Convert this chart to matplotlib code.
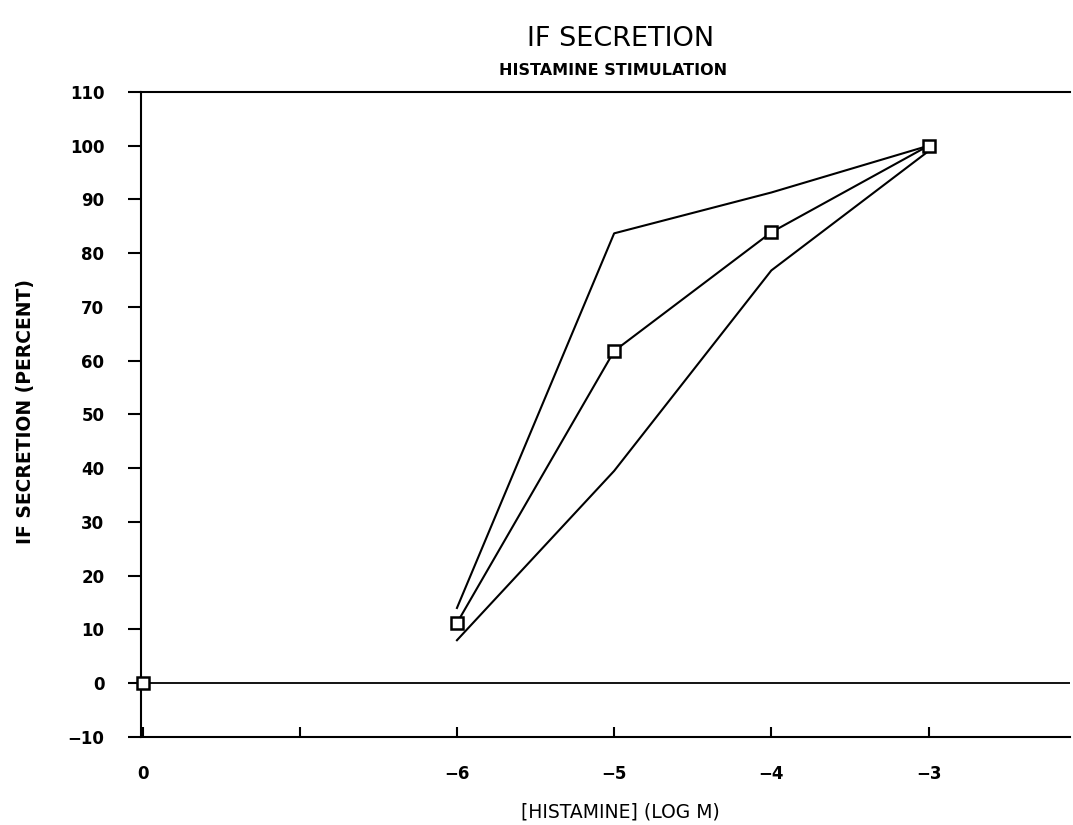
import matplotlib
matplotlib.use("Agg")
import matplotlib.pyplot as plt

# Log concentration positions (0 = no histamine, drawn at -8)
x_base = [-8]
base_vals = [0]
x_curve = [-6, -5, -4, -3]
mean_vals = [11.2, 61.8, 83.9, 100]
upper_vals = [14, 83.7, 91.3, 100]
lower_vals = [8, 39.5, 76.8, 99]

xtick_pos = [-8, -7, -6, -5, -4, -3]
xtick_labels = ["0", "", "\u22126", "\u22125", "\u22124", "\u22123"]
ytick_vals = list(range(-10, 111, 10))

fig = plt.figure(figsize=(10.73, 8.25), dpi=100)
ax = fig.add_axes([0.1314, 0.1067, 0.8658, 0.7818])

# Mean curve with square markers, envelope lines without
ax.plot(x_curve, mean_vals, color="black", lw=1.5, marker="s", ms=8,
        mfc="white", mec="black", mew=1.8, zorder=3)
ax.plot(x_base, base_vals, ls="none", marker="s", ms=8,
        mfc="white", mec="black", mew=1.8, zorder=3, clip_on=False)
ax.plot(x_curve, upper_vals, color="black", lw=1.5)
ax.plot(x_curve, lower_vals, color="black", lw=1.5)
ax.axhline(0, color="black", lw=1.3)

ax.set_xlim(-8.01, -2.1)
ax.set_ylim(-10, 110)
ax.set_xticks(xtick_pos)
ax.set_xticklabels(xtick_labels, fontsize=12, fontweight="bold")
ax.set_yticks(ytick_vals)
ax.set_yticklabels([f"{v:d}".replace("-", "\u2212") for v in ytick_vals],
                   fontsize=12, fontweight="bold")
ax.tick_params(axis="x", direction="in", length=7, width=1.5, pad=20)
ax.tick_params(axis="y", direction="out", length=9.4, width=1.5, pad=17)

ax.spines["right"].set_visible(False)
for s in ["left", "top", "bottom"]:
    ax.spines[s].set_linewidth(1.5)

ax.set_xlabel("[HISTAMINE] (LOG M)", fontsize=13.5, va="center")
ax.xaxis.set_label_coords(0.516, -0.116)
ax.set_ylabel("IF SECRETION (PERCENT)", fontsize=13.5, fontweight="bold", va="center")
ax.yaxis.set_label_coords(-0.1247, 0.504)

fig.text(0.578, 0.953, "IF SECRETION", ha="center", va="center", fontsize=19.5)
fig.text(0.571, 0.915, "HISTAMINE STIMULATION", ha="center", va="center",
         fontsize=11.5, fontweight="bold")

fig.savefig("out.png", dpi=100)
